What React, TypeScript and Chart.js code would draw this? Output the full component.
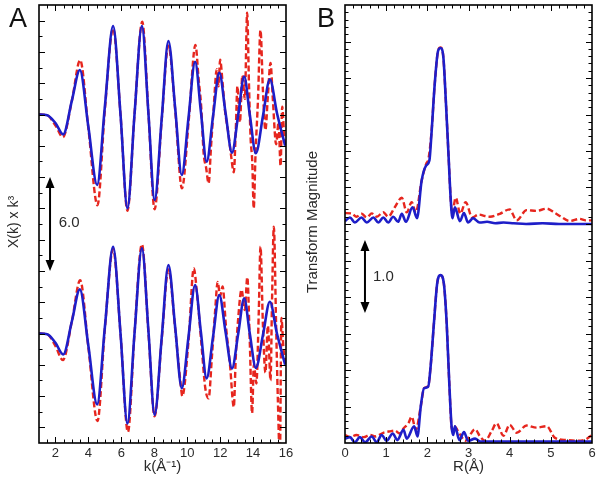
import React, { useEffect, useRef } from "react";
import { Chart, registerables } from "chart.js";
Chart.register(...registerables);

// ---------- Panel A : chi(k) * k^3 (values relative to each trace's baseline) ----------
const A_UPPER_OFFSET = 7;
const A_LOWER_OFFSET = -7;

const kBlue = [1.0, 1.5, 2.0, 2.47, 3.0, 3.48, 4.0, 4.53, 5.0, 5.5, 5.95, 6.37, 6.8, 7.25, 7.65, 8.02, 8.45, 8.86, 9.27, 9.67, 10.08, 10.48, 10.83, 11.18, 11.57, 11.95, 12.33, 12.72, 13.1, 13.46, 13.8, 14.17, 14.6, 15.02, 15.45, 15.95];
const chiBlueUpper = [0, -0.05, -0.55, -1.27, 0.9, 2.84, -0.8, -4.5, 0.5, 5.66, 0, -6.0, 0, 5.66, 0, -5.47, -0.3, 4.7, 0.4, -3.87, -0.2, 3.37, 0.2, -3.02, -0.1, 2.67, 0.1, -2.44, 0, 2.42, 0, -2.48, -0.1, 2.25, 0.1, -2.0];
const chiBlueLower = [0, -0.05, -0.6, -1.34, 0.8, 2.82, -0.8, -4.53, 0.4, 5.55, 0, -5.75, 0, 5.45, 0.1, -5.2, -0.3, 4.38, 0.4, -3.5, -0.2, 3.1, 0.1, -2.87, -0.2, 2.46, 0.1, -2.23, 0, 2.25, 0, -2.2, -0.1, 2.03, 0, -2.0];

const kRedUpper = [1.0, 1.5, 2.0, 2.45, 3.0, 3.5, 4.0, 4.55, 5.0, 5.5, 5.95, 6.37, 6.8, 7.27, 7.65, 8.02, 8.45, 8.86, 9.27, 9.68, 10.1, 10.5, 10.7, 10.85, 11.0, 11.15, 11.3, 11.45, 11.6, 11.8, 11.9, 12.0, 12.15, 12.3, 12.5, 12.65, 12.83, 12.95, 13.05, 13.2, 13.35, 13.5, 13.64, 13.75, 13.85, 13.95, 14.04, 14.15, 14.3, 14.45, 14.6, 14.75, 14.9, 15.06, 15.2, 15.4, 15.55, 15.67, 15.77, 15.9, 16.0];
const chiRedUpper = [0, -0.05, -0.7, -1.45, 0.9, 3.48, -0.9, -5.8, 0.3, 5.5, 0, -6.15, 0, 5.93, 0, -6.06, -0.4, 4.4, 0.3, -4.72, -0.3, 4.44, 2.2, 0.5, -2.5, -3.4, -4.4, -2.0, 0.3, 2.9, 1.8, 3.5, 2.0, 0.2, -1.2, -2.5, -3.7, -1.0, 1.8, -0.5, 2.5, 1.0, 6.5, 2.0, -1.5, -3.0, -6.0, -2.5, 1.0, 5.4, 1.5, -1.0, 1.2, 3.3, 1.0, -1.9, -0.5, -3.3, 0.5, -1.5, -2.0];

const kRedLower = [1.0, 1.5, 2.0, 2.45, 3.0, 3.5, 4.0, 4.55, 5.0, 5.5, 5.95, 6.4, 6.8, 7.25, 7.65, 8.02, 8.45, 8.86, 9.27, 9.6, 9.7, 10.08, 10.4, 10.6, 10.85, 11.1, 11.3, 11.5, 11.7, 11.85, 12.0, 12.15, 12.35, 12.6, 12.83, 12.95, 13.1, 13.3, 13.5, 13.65, 13.8, 13.94, 14.05, 14.2, 14.35, 14.45, 14.6, 14.75, 14.9, 15.06, 15.15, 15.26, 15.4, 15.5, 15.63, 15.72, 15.85, 16.0];
const chiRedLower = [0, -0.05, -0.8, -1.7, 0.8, 3.4, -0.9, -5.6, 0.3, 5.4, 0, -6.3, 0, 5.7, 0, -5.3, -0.4, 4.1, 0.3, -3.2, -4.0, -0.5, 4.17, 2.5, -0.5, -3.5, -4.15, -1.5, 1.5, 3.3, 2.4, 3.0, 0.5, -2.0, -4.7, -1.5, 1.0, 2.8, 1.5, 3.6, -0.5, -5.1, -2.0, -3.2, 1.5, 5.55, 0.5, -2.5, 0.5, -3.0, 2.0, 6.83, 0.5, -4.0, -8.0, 1.0, -1.0, -2.0];

const kTickLabels = [2, 4, 6, 8, 10, 12, 14, 16];

// ---------- Panel B : Fourier transform magnitude ----------
const B_UPPER_OFFSET = 3;
const B_LOWER_OFFSET = 0;

const rBlueUpper = [0.0, 0.12, 0.24, 0.40, 0.53, 0.69, 0.81, 0.93, 1.05, 1.17, 1.29, 1.38, 1.48, 1.64, 1.75, 1.86, 1.97, 2.05, 2.10, 2.18, 2.26, 2.32, 2.39, 2.45, 2.51, 2.57, 2.61, 2.67, 2.79, 2.89, 2.99, 3.11, 3.27, 3.45, 3.65, 3.85, 4.1, 4.4, 4.8, 5.2, 5.6, 6.0];
const magBlueUpper = [0.04, 0.09, 0.02, 0.09, 0.02, 0.09, 0.02, 0.09, 0.02, 0.10, 0.03, 0.14, 0.03, 0.23, 0.08, 0.59, 0.80, 0.87, 1.23, 1.92, 2.37, 2.41, 2.28, 1.68, 1.00, 0.32, 0.08, 0.23, 0.04, 0.15, 0.02, 0.08, 0.02, 0.03, 0.01, 0.02, 0.01, 0.0, 0.01, 0.0, 0.0, 0.0];

const rRedUpper = [0.0, 0.16, 0.28, 0.40, 0.53, 0.65, 0.77, 0.93, 1.05, 1.21, 1.38, 1.50, 1.62, 1.72, 1.86, 1.97, 2.03, 2.10, 2.18, 2.26, 2.32, 2.39, 2.45, 2.51, 2.57, 2.60, 2.69, 2.80, 2.93, 3.09, 3.25, 3.40, 3.52, 3.76, 4.00, 4.17, 4.41, 4.65, 4.90, 5.10, 5.22, 5.46, 5.70, 5.85, 6.0];
const magRedUpper = [0.15, 0.145, 0.10, 0.14, 0.09, 0.145, 0.10, 0.16, 0.10, 0.23, 0.36, 0.16, 0.30, 0.16, 0.59, 0.82, 0.90, 1.25, 1.92, 2.37, 2.42, 2.28, 1.68, 1.00, 0.32, 0.14, 0.36, 0.14, 0.30, 0.09, 0.13, 0.11, 0.10, 0.14, 0.20, 0.05, 0.19, 0.18, 0.21, 0.15, 0.11, 0.04, 0.07, 0.05, 0.05];

const rBlueLower = [0.0, 0.12, 0.24, 0.36, 0.49, 0.65, 0.77, 0.89, 1.01, 1.16, 1.27, 1.42, 1.50, 1.68, 1.76, 1.84, 1.92, 2.02, 2.08, 2.16, 2.24, 2.32, 2.40, 2.47, 2.53, 2.59, 2.63, 2.67, 2.78, 2.89, 2.99, 3.16, 3.28, 3.6, 4.0, 4.5, 5.0, 5.5, 6.0];
const magBlueLower = [0.06, 0.08, 0.01, 0.08, 0.01, 0.09, 0.01, 0.11, 0.03, 0.13, 0.04, 0.18, 0.06, 0.23, 0.09, 0.50, 0.75, 0.77, 1.05, 1.64, 2.19, 2.30, 2.19, 1.64, 0.86, 0.22, 0.11, 0.23, 0.04, 0.15, 0.03, 0.06, 0.02, 0.02, 0.02, 0.02, 0.02, 0.02, 0.02];

const rRedLower = [0.0, 0.12, 0.28, 0.45, 0.61, 0.73, 0.93, 1.09, 1.21, 1.33, 1.42, 1.54, 1.62, 1.72, 1.84, 1.92, 2.02, 2.08, 2.16, 2.24, 2.32, 2.40, 2.47, 2.53, 2.60, 2.65, 2.78, 2.92, 3.16, 3.28, 3.40, 3.56, 3.68, 3.85, 4.00, 4.17, 4.41, 4.65, 4.90, 5.10, 5.38, 5.62, 5.85, 6.0];
const magRedLower = [0.11, 0.08, 0.11, 0.08, 0.11, 0.09, 0.14, 0.16, 0.17, 0.13, 0.20, 0.27, 0.36, 0.18, 0.50, 0.75, 0.78, 1.05, 1.64, 2.19, 2.30, 2.19, 1.64, 0.86, 0.18, 0.23, 0.13, 0.03, 0.19, 0.09, 0.03, 0.16, 0.27, 0.10, 0.25, 0.14, 0.24, 0.21, 0.23, 0.07, 0.04, 0.03, 0.05, 0.11];

const rTickLabels = [0, 1, 2, 3, 4, 5, 6];

// ---------- styling ----------
const FONT = "'Liberation Sans', Arial, Helvetica, sans-serif";
const BLUE = "#1e1ec8";
const RED = "#e6261e";
const TEXT = "#2a2a2a";

const pts = (xs: number[], ys: number[], off: number) =>
  xs.map((x, i) => ({ x, y: ys[i] + off }));

type Decor = {
  letter: string;
  letterX: number;
  letterY: number;
  yTitle: string;
  yTitleGap: number;
  yTitleSize: number;
  xMinor: number;
  xMajor: number;
  xPhase: number;
  yMinor: number;
  yMajor: number;
  yPhase: number;
  arrowX: number;
  arrowY0: number;
  arrowY1: number;
  arrowLabel: string;
  labelX: number;
  labelY: number;
};

const isMult = (v: number, step: number, phase: number) => {
  const q = (v - phase) / step;
  return Math.abs(q - Math.round(q)) < 1e-6;
};

function makeDecor(d: Decor) {
  return {
    id: "decor",
    afterDraw(chart: any) {
      const { ctx, chartArea: a, scales } = chart;
      const xs = scales.x;
      const ys = scales.y;
      ctx.save();
      ctx.strokeStyle = "#000";
      ctx.lineWidth = 1;
      // x ticks (bottom and top, pointing inward)
      const nx = Math.round((xs.max - xs.min) / d.xMinor);
      for (let i = 1; i < nx; i++) {
        const v = xs.min + i * d.xMinor;
        const len = isMult(v, d.xMajor, d.xPhase) ? 6 : 3.5;
        const px = Math.round(xs.getPixelForValue(v)) + 0.5;
        ctx.beginPath();
        ctx.moveTo(px, a.bottom);
        ctx.lineTo(px, a.bottom - len);
        ctx.moveTo(px, a.top);
        ctx.lineTo(px, a.top + len);
        ctx.stroke();
      }
      const ny = Math.round((ys.max - ys.min) / d.yMinor);
      for (let i = 1; i < ny; i++) {
        const v = ys.min + i * d.yMinor;
        const len = isMult(v, d.yMajor, d.yPhase) ? 6 : 3.5;
        const py = Math.round(ys.getPixelForValue(v)) + 0.5;
        ctx.beginPath();
        ctx.moveTo(a.left, py);
        ctx.lineTo(a.left + len, py);
        ctx.moveTo(a.right, py);
        ctx.lineTo(a.right - len, py);
        ctx.stroke();
      }
      // frame
      ctx.lineWidth = 1.6;
      ctx.strokeRect(a.left, a.top, a.right - a.left, a.bottom - a.top);

      // panel letter
      ctx.fillStyle = "#111";
      ctx.font = `27px ${FONT}`;
      ctx.textAlign = "left";
      ctx.textBaseline = "alphabetic";
      ctx.fillText(d.letter, d.letterX, d.letterY);

      // y title
      ctx.save();
      ctx.translate(a.left - d.yTitleGap, (a.top + a.bottom) / 2 - 2);
      ctx.rotate(-Math.PI / 2);
      ctx.fillStyle = TEXT;
      ctx.font = `${d.yTitleSize}px ${FONT}`;
      ctx.textAlign = "center";
      ctx.textBaseline = "middle";
      ctx.fillText(d.yTitle, 0, 0);
      ctx.restore();

      // scale arrow
      const ax = xs.getPixelForValue(d.arrowX);
      const yTop = ys.getPixelForValue(d.arrowY1);
      const yBot = ys.getPixelForValue(d.arrowY0);
      const head = 11;
      const hw = 4.5;
      ctx.fillStyle = "#000";
      ctx.strokeStyle = "#000";
      ctx.lineWidth = 2;
      ctx.beginPath();
      ctx.moveTo(ax, yTop + head - 1);
      ctx.lineTo(ax, yBot - head + 1);
      ctx.stroke();
      ctx.beginPath();
      ctx.moveTo(ax, yTop);
      ctx.lineTo(ax - hw, yTop + head);
      ctx.lineTo(ax + hw, yTop + head);
      ctx.closePath();
      ctx.fill();
      ctx.beginPath();
      ctx.moveTo(ax, yBot);
      ctx.lineTo(ax - hw, yBot - head);
      ctx.lineTo(ax + hw, yBot - head);
      ctx.closePath();
      ctx.fill();
      ctx.fillStyle = TEXT;
      ctx.font = `15px ${FONT}`;
      ctx.textAlign = "left";
      ctx.textBaseline = "middle";
      ctx.fillText(d.arrowLabel, xs.getPixelForValue(d.labelX), ys.getPixelForValue(d.labelY));
      ctx.restore();
    },
  };
}

function makeConfig(p: {
  datasets: any[];
  xMin: number;
  xMax: number;
  yMin: number;
  yMax: number;
  labels: number[];
  xTitle: string;
  leftWidth: number;
  padRight: number;
  decor: Decor;
}): any {
  return {
    type: "line",
    data: { datasets: p.datasets },
    options: {
      responsive: false,
      animation: false,
      devicePixelRatio: 1,
      layout: { padding: { top: 5, right: p.padRight, bottom: 0, left: 0 } },
      plugins: { legend: { display: false }, tooltip: { enabled: false } },
      elements: { point: { radius: 0 }, line: { cubicInterpolationMode: "monotone" } },
      scales: {
        x: {
          type: "linear",
          min: p.xMin,
          max: p.xMax,
          grid: { display: false, drawTicks: false },
          border: { display: false },
          ticks: {
            stepSize: 1,
            autoSkip: false,
            maxRotation: 0,
            padding: 3,
            color: TEXT,
            font: { family: FONT, size: 13 },
            callback: (v: number) => (p.labels.includes(v) ? String(v) : ""),
          },
          title: {
            display: true,
            text: p.xTitle,
            color: TEXT,
            font: { family: FONT, size: 15 },
            padding: { top: 0, bottom: 4 },
          },
          afterFit: (s: any) => {
            s.height = 37;
          },
        },
        y: {
          type: "linear",
          min: p.yMin,
          max: p.yMax,
          grid: { display: false, drawTicks: false },
          border: { display: false },
          ticks: { display: false },
          afterFit: (s: any) => {
            s.width = p.leftWidth;
          },
        },
      },
    },
    plugins: [makeDecor(p.decor)],
  };
}

const blueStyle = { borderColor: BLUE, borderWidth: 2.6, fill: false };
const redStyle = { borderColor: RED, borderWidth: 2.4, borderDash: [6, 3], fill: false };

export default function App() {
  const refA = useRef<HTMLCanvasElement>(null);
  const refB = useRef<HTMLCanvasElement>(null);

  useEffect(() => {
    const chartA = new Chart(
      refA.current as HTMLCanvasElement,
      makeConfig({
        datasets: [
          { ...blueStyle, data: pts(kBlue, chiBlueUpper, A_UPPER_OFFSET) },
          { ...blueStyle, data: pts(kBlue, chiBlueLower, A_LOWER_OFFSET) },
          { ...redStyle, data: pts(kRedUpper, chiRedUpper, A_UPPER_OFFSET) },
          { ...redStyle, data: pts(kRedLower, chiRedLower, A_LOWER_OFFSET) },
        ],
        xMin: 1,
        xMax: 16,
        yMin: -14,
        yMax: 14,
        labels: kTickLabels,
        xTitle: "k(Å⁻¹)",
        leftWidth: 39,
        padRight: 14,
        decor: {
          letter: "A",
          letterX: 9,
          letterY: 27,
          yTitle: "X(k) x k³",
          yTitleGap: 25,
          yTitleSize: 14,
          xMinor: 0.5,
          xMajor: 2,
          xPhase: 0,
          yMinor: 1,
          yMajor: 2,
          yPhase: 1,
          arrowX: 1.67,
          arrowY0: -3,
          arrowY1: 3,
          arrowLabel: "6.0",
          labelX: 2.2,
          labelY: 0.1,
        },
      })
    );
    const chartB = new Chart(
      refB.current as HTMLCanvasElement,
      makeConfig({
        datasets: [
          { ...blueStyle, data: pts(rBlueUpper, magBlueUpper, B_UPPER_OFFSET) },
          { ...blueStyle, data: pts(rBlueLower, magBlueLower, B_LOWER_OFFSET) },
          { ...redStyle, data: pts(rRedUpper, magRedUpper, B_UPPER_OFFSET) },
          { ...redStyle, data: pts(rRedLower, magRedLower, B_LOWER_OFFSET) },
        ],
        xMin: 0,
        xMax: 6,
        yMin: 0,
        yMax: 6,
        labels: rTickLabels,
        xTitle: "R(Å)",
        leftWidth: 45,
        padRight: 8,
        decor: {
          letter: "B",
          letterX: 17,
          letterY: 27,
          yTitle: "Transform Magnitude",
          yTitleGap: 32,
          yTitleSize: 15,
          xMinor: 0.2,
          xMajor: 1,
          xPhase: 0,
          yMinor: 0.1,
          yMajor: 0.5,
          yPhase: 0,
          arrowX: 0.485,
          arrowY0: 1.78,
          arrowY1: 2.78,
          arrowLabel: "1.0",
          labelX: 0.68,
          labelY: 2.27,
        },
      })
    );
    return () => {
      chartA.destroy();
      chartB.destroy();
    };
  }, []);

  return (
    <div style={{ position: "fixed", left: 0, top: 0, width: 600, height: 480, background: "#fff" }}>
      <canvas
        ref={refA}
        width={300}
        height={480}
        style={{ position: "absolute", left: 0, top: 0, width: 300, height: 480 }}
      />
      <canvas
        ref={refB}
        width={300}
        height={480}
        style={{ position: "absolute", left: 300, top: 0, width: 300, height: 480 }}
      />
    </div>
  );
}
